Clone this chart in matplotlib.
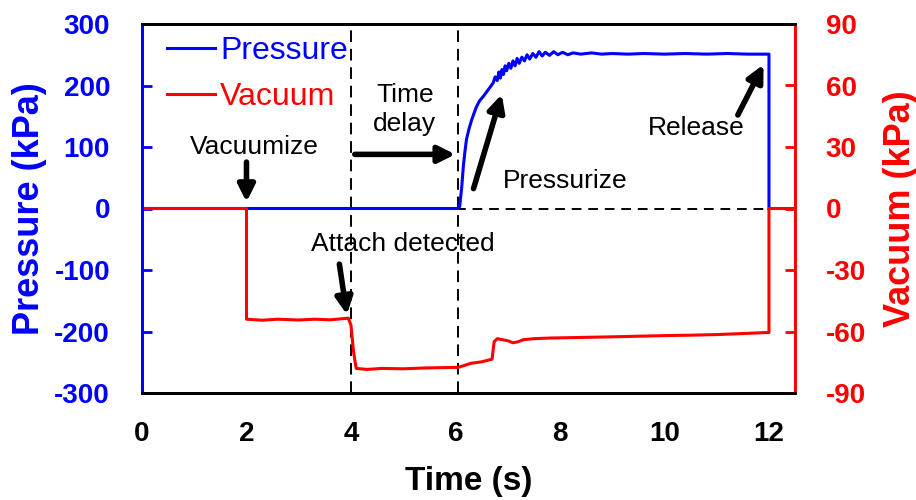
import matplotlib.pyplot as plt
import numpy as np

plt.rcParams['font.family'] = ['Liberation Sans', 'DejaVu Sans']
plt.rcParams['axes.unicode_minus'] = False

# presion (eje izquierdo, kPa)
t_pres = [0.0, 6.05, 6.08, 6.12, 6.15, 6.18, 6.21, 6.26, 6.31, 6.36, 6.40, 6.46, 6.53, 6.60,
          6.66, 6.72, 6.76, 6.80, 6.83, 6.86, 6.89, 6.92, 6.95, 6.98, 7.02, 7.06, 7.10,
          7.14, 7.18, 7.22, 7.27, 7.32, 7.37, 7.42, 7.48, 7.54, 7.60, 7.66, 7.72, 7.80,
          7.88, 7.96, 8.05, 8.15, 8.25, 8.40, 8.60, 8.80, 9.00, 9.30, 9.60, 10.0, 10.4,
          10.8, 11.2, 11.6, 11.95, 12.0, 12.0]
pres = [0, 0, 3, 35, 68, 92, 112, 130, 144, 156, 165, 175, 182, 190,
        197, 204, 214, 208, 222, 212, 226, 218, 232, 224, 236, 228, 240,
        232, 244, 236, 246, 240, 250, 243, 252, 246, 255, 248, 254, 249,
        255, 250, 254, 250, 253, 251, 253, 251, 252, 251, 252, 251, 252,
        251, 252, 251, 251, 251, 0]

# vacio (eje derecho, kPa)
t_vac = [0.0, 2.0, 2.0, 2.3, 2.6, 3.0, 3.3, 3.6, 3.95, 4.0, 4.05, 4.1, 4.3, 4.6, 5.0,
         5.4, 5.8, 6.05, 6.3, 6.5, 6.7, 6.74, 6.8, 6.9, 7.0, 7.1, 7.2, 7.3, 7.5, 7.8,
         8.2, 8.6, 9.0, 9.5, 10.0, 10.5, 11.0, 11.5, 11.95, 12.0, 12.0, 12.5]
vac = [0, 0, -54, -54.5, -54, -54.4, -54, -54.3, -53.5, -57, -70, -78, -78.5, -78, -78.2,
       -77.8, -77.6, -77.5, -75.5, -74.8, -73.5, -65, -63.5, -64, -64.5, -65.5, -65,
       -64, -63.5, -63.2, -63, -62.8, -62.6, -62.3, -62, -61.8, -61.5, -61, -60.5,
       -60.5, 0, 0]

x_ticks = [0, 2, 4, 6, 8, 10, 12]
p_ticks = [-300, -200, -100, 0, 100, 200, 300]
v_ticks = [-90, -60, -30, 0, 30, 60, 90]

azul = '#0000ff'
rojo = '#ff0000'

fig = plt.figure(figsize=(9.16, 5.0), dpi=100)
ax = fig.add_axes([0.155, 0.214, 0.713, 0.738])
ax2 = ax.twinx()

l1, = ax.plot(t_pres, pres, color=azul, lw=2.2, label='Pressure')
l2, = ax2.plot(t_vac, vac, color=rojo, lw=2.2, label='Vacuum')

# lineas punteadas
ax.axhline(0, color='black', lw=1.4, ls=(0, (5, 3.5)), zorder=0)
ax.axvline(4.0, color='black', lw=1.4, ls=(0, (6, 3.5)), zorder=0)
ax.axvline(6.05, color='black', lw=1.4, ls=(0, (6, 3.5)), zorder=0)

ax.set_xlim(0, 12.5)
ax.set_ylim(-300, 300)
ax2.set_ylim(-90, 90)
ax.set_xticks(x_ticks)
ax.set_yticks(p_ticks)
ax2.set_yticks(v_ticks)

ax.tick_params(axis='x', length=0, pad=20, labelsize=20)
ax.tick_params(axis='y', direction='in', length=7, width=2, color=azul,
               labelcolor=azul, labelsize=20, pad=23)
ax2.tick_params(axis='y', direction='in', length=7, width=2, color=rojo,
                labelcolor=rojo, labelsize=20, pad=22)
for lab in ax.get_xticklabels() + ax.get_yticklabels() + ax2.get_yticklabels():
    lab.set_fontweight('bold')

for a in (ax, ax2):
    for s in a.spines.values():
        s.set_linewidth(2)
ax2.spines['left'].set_color(azul)
ax2.spines['right'].set_color(rojo)
ax.spines['left'].set_color(azul)
ax.spines['right'].set_color(rojo)

ax.set_xlabel('Time (s)', fontsize=24, fontweight='bold', labelpad=14)
ax.set_ylabel('Pressure (kPa)', fontsize=26, fontweight='bold', color=azul, labelpad=5)
ax2.set_ylabel('Vacuum (kPa)', fontsize=26, fontweight='bold', color=rojo, labelpad=12)

ax2.legend(handles=[l1, l2], loc='upper left', bbox_to_anchor=(-0.005, 1.045),
           frameon=False, fontsize=23, labelcolor='linecolor', handlelength=1.5,
           handletextpad=0.15, labelspacing=0.5)

# anotaciones
fs = 19
flecha = dict(arrowstyle='-|>,head_length=1.0,head_width=0.5', color='black', lw=4)
ax.text(2.15, 100, 'Vacuumize', fontsize=fs, ha='center', va='center')
ax.annotate('', xy=(2.0, 6), xytext=(2.0, 80), arrowprops=flecha)
ax.text(5.03, 161, 'Time\ndelay', fontsize=fs, ha='center', va='center', linespacing=1.25)
ax.annotate('', xy=(6.05, 88), xytext=(4.02, 88), arrowprops=flecha)
ax.text(4.99, -57, 'Attach detected', fontsize=fs, ha='center', va='center')
ax.annotate('', xy=(3.93, -177), xytext=(3.77, -86), arrowprops=flecha)
ax.text(8.1, 44, 'Pressurize', fontsize=fs, ha='center', va='center')
ax.annotate('', xy=(6.9, 190), xytext=(6.33, 28), arrowprops=flecha)
ax.text(10.6, 131, 'Release', fontsize=fs, ha='center', va='center')
ax.annotate('', xy=(11.92, 238), xytext=(11.38, 148), arrowprops=flecha)

fig.savefig('out.png', dpi=100)
